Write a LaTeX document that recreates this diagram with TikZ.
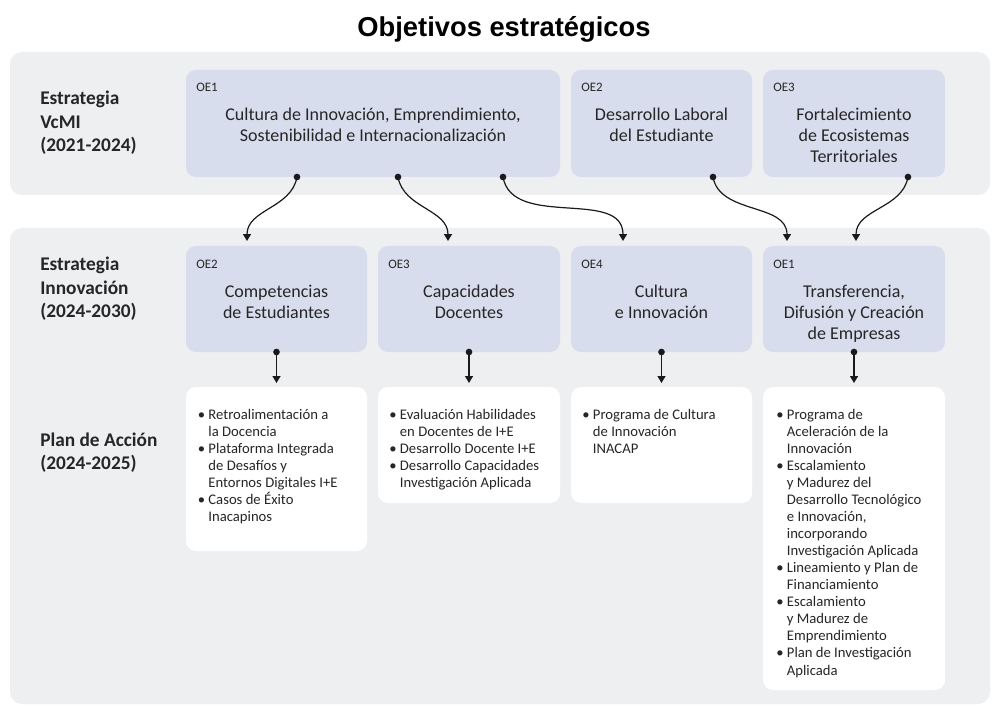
\documentclass[tikz,border=0pt]{standalone}
\usepackage{fontspec}
\setmainfont{Carlito}
\newfontfamily\titlefont{Liberation Sans}
\usetikzlibrary{arrows.meta,fit}
\definecolor{bandgray}{HTML}{EEEFF1}
\definecolor{boxblue}{HTML}{D7DDEC}
\definecolor{linecol}{HTML}{1A1A1A}
\definecolor{txtcol}{HTML}{262626}
\newcommand\clines[2]{\vtop{\baselineskip=#1\lineskiplimit=-20pt\lineskip=0pt\halign{\hfil##\hfil\cr#2\crcr}}}
\newcommand\llines[2]{\vtop{\baselineskip=#1\lineskiplimit=-20pt\lineskip=0pt\halign{##\hfil\cr#2\crcr}}}
\newcommand\bu{\makebox[8pt][l]{•}}
\newcommand\ct{\hspace*{8pt}}
\begin{document}
\begin{tikzpicture}[x=0.75pt,y=-0.75pt,
  band/.style={fill=bandgray,rounded corners=9pt,inner sep=0pt},
  bluebox/.style={fill=boxblue,rounded corners=7.5pt,inner sep=0pt},
  planbox/.style={fill=white,rounded corners=7.5pt,inner sep=0pt},
  oe/.style={inner sep=0pt,font=\fontsize{9.7}{11}\selectfont,text=txtcol},
  boxtxt/.style={inner sep=0pt,font=\fontsize{13.5}{15.75}\selectfont,text=txtcol},
  bultxt/.style={inner sep=0pt,font=\fontsize{11}{12.75}\selectfont,text=txtcol},
  rowlab/.style={inner sep=0pt,font=\fontsize{14.5}{17.5}\selectfont\bfseries,text=txtcol},
  dotnode/.style={circle,fill=linecol,inner sep=0pt,minimum size=5pt},
  conn/.style={draw=linecol,line width=0.9pt,-{Triangle[width=6pt,length=5.2pt]}}
]
\useasboundingbox (0,0) rectangle (1000,713);
\fill[white] (0,0) rectangle (1000,713);

% title
\node[inner sep=0pt,anchor=base,font=\titlefont\fontsize{20.5}{24}\selectfont\bfseries] (title) at (504,37) {Objetivos estratégicos};

% bands
\node[band,fit={(10,52)(990,195)}] (bandA) {};
\node[band,fit={(10,228)(990,704)}] (bandB) {};

% row labels
\node[rowlab,anchor=base west] (labA) at (40,105) {\llines{17.3pt}{Estrategia\cr VcMI\cr (2021-2024)}};
\node[rowlab,anchor=base west] (labB) at (40,271) {\llines{17.3pt}{Estrategia\cr Innovación\cr (2024-2030)}};
\node[rowlab,anchor=base west] (labC) at (40,446) {\llines{17.3pt}{Plan de Acción\cr (2024-2025)}};

% top row
\node[bluebox,fit={(186,70)(560,177)}] (t1) {};
\node[bluebox,fit={(571,70)(752,177)}] (t2) {};
\node[bluebox,fit={(763,70)(945,177)}] (t3) {};
\node[oe,anchor=base west] (t1oe) at (196,92) {OE1};
\node[oe,anchor=base west] (t2oe) at (581,92) {OE2};
\node[oe,anchor=base west] (t3oe) at (773,92) {OE3};
\node[boxtxt,anchor=base] (t1txt) at (373,121) {\clines{15.75pt}{Cultura de Innovación, Emprendimiento,\cr Sostenibilidad e Internacionalización}};
\node[boxtxt,anchor=base] (t2txt) at (661.5,121) {\clines{15.75pt}{Desarrollo Laboral\cr del Estudiante}};
\node[boxtxt,anchor=base] (t3txt) at (854,121) {\clines{15.75pt}{Fortalecimiento\cr de Ecosistemas\cr Territoriales}};

% middle row
\node[bluebox,fit={(186,246)(367,352)}] (m1) {};
\node[bluebox,fit={(378,246)(560,352)}] (m2) {};
\node[bluebox,fit={(571,246)(752,352)}] (m3) {};
\node[bluebox,fit={(763,246)(945,352)}] (m4) {};
\node[oe,anchor=base west] (m1oe) at (196,268) {OE2};
\node[oe,anchor=base west] (m2oe) at (388,268) {OE3};
\node[oe,anchor=base west] (m3oe) at (581,268) {OE4};
\node[oe,anchor=base west] (m4oe) at (773,268) {OE1};
\node[boxtxt,anchor=base] (m1txt) at (276.5,297) {\clines{15.75pt}{Competencias\cr de Estudiantes}};
\node[boxtxt,anchor=base] (m2txt) at (469,297) {\clines{15.75pt}{Capacidades\cr Docentes}};
\node[boxtxt,anchor=base] (m3txt) at (661.5,297) {\clines{15.75pt}{Cultura\cr e Innovación}};
\node[boxtxt,anchor=base] (m4txt) at (854,297) {\clines{15.75pt}{Transferencia,\cr Difusión y Creación\cr de Empresas}};

% plan boxes
\node[planbox,fit={(186,387)(367,551)}] (p1) {};
\node[planbox,fit={(378,387)(560,503)}] (p2) {};
\node[planbox,fit={(571,387)(752,503)}] (p3) {};
\node[planbox,fit={(763,387)(945,690)}] (p4) {};
\node[bultxt,anchor=base west] (p1txt) at (197.5,419) {\llines{12.8pt}{\bu Retroalimentación a\cr \ct la Docencia\cr \bu Plataforma Integrada\cr \ct de Desafíos y\cr \ct Entornos Digitales I+E\cr \bu Casos de Éxito\cr \ct Inacapinos}};
\node[bultxt,anchor=base west] (p2txt) at (389,419) {\llines{12.8pt}{\bu Evaluación Habilidades\cr \ct en Docentes de I+E\cr \bu Desarrollo Docente I+E\cr \bu Desarrollo Capacidades\cr \ct Investigación Aplicada}};
\node[bultxt,anchor=base west] (p3txt) at (582,419) {\llines{12.8pt}{\bu Programa de Cultura\cr \ct de Innovación\cr \ct INACAP}};
\node[bultxt,anchor=base west] (p4txt) at (776,419) {\llines{12.8pt}{\bu Programa de\cr \ct Aceleración de la\cr \ct Innovación\cr \bu Escalamiento\cr \ct y Madurez del\cr \ct Desarrollo Tecnológico\cr \ct e Innovación,\cr \ct incorporando\cr \ct Investigación Aplicada\cr \bu Lineamiento y Plan de\cr \ct Financiamiento\cr \bu Escalamiento\cr \ct y Madurez de\cr \ct Emprendimiento\cr \bu Plan de Investigación\cr \ct Aplicada}};

% top connectors
\node[dotnode] (d1) at (297,177) {};
\node[dotnode] (d2) at (398,177) {};
\node[dotnode] (d3) at (503,177) {};
\node[dotnode] (d4) at (713,177) {};
\node[dotnode] (d5) at (908,177) {};
\coordinate (a1) at (247,241);
\coordinate (a2) at (448,241);
\coordinate (a3) at (623,241);
\coordinate (a4) at (787,241);
\coordinate (a5) at (856,241);
\draw[conn] (d1.center) to[out=-100,in=90] (a1);
\draw[conn] (d2.center) to[out=-80,in=90] (a2);
\draw[conn] (d3.center) to[out=-80,in=90] (a3);
\draw[conn] (d4.center) to[out=-80,in=90] (a4);
\draw[conn] (d5.center) to[out=-100,in=90] (a5);

% middle connectors
\node[dotnode] (e1) at (276.5,352) {};
\node[dotnode] (e2) at (469,352) {};
\node[dotnode] (e3) at (661.5,352) {};
\node[dotnode] (e4) at (854,352) {};
\coordinate (b1) at (276.5,383);
\coordinate (b2) at (469,383);
\coordinate (b3) at (661.5,383);
\coordinate (b4) at (854,383);
\draw[conn] (e1.center) -- (b1);
\draw[conn] (e2.center) -- (b2);
\draw[conn] (e3.center) -- (b3);
\draw[conn] (e4.center) -- (b4);
\end{tikzpicture}
\end{document}
